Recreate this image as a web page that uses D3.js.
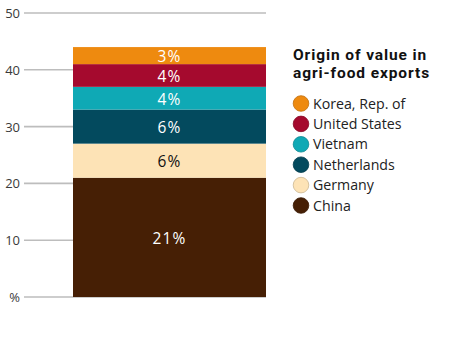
<!DOCTYPE html>
<html><head><meta charset="utf-8">
<script src="https://cdn.jsdelivr.net/npm/d3@7"></script>
<style>body{margin:0;background:#fff;}svg{display:block;font-family:"Open Sans","Noto Sans",sans-serif;}</style>
</head><body><svg id="c" width="474" height="339"></svg>
<script>
const categories = ["China","Germany","Netherlands","Vietnam","United States","Korea, Rep. of"];
const values = [21, 6, 6, 4, 4, 3];
const colors = ["#461f05","#fde3b6","#034a5e","#0fa9b5","#a50a2e","#ee8a0f"];
const labelColors = ["#fff","#111","#fff","#fff","#fff","#fff"];
const tickValues = [0,10,20,30,40,50];
const tickLabels = ["%","10","20","30","40","50"];
const legendTitle = ["Origin of value in","agri-food exports"];

const svg = d3.select("#c");
const y = d3.scaleLinear().domain([0,50]).range([297,13]);
const x0 = 24, barL = 73, barR = 266;

// gridlines
svg.append("g").selectAll("line").data(tickValues).join("line")
  .attr("x1", x0).attr("x2", barR)
  .attr("y1", d=>y(d)).attr("y2", d=>y(d))
  .attr("stroke","#bdbdbd").attr("stroke-width",1.6);
svg.append("g").selectAll("text").data(tickValues).join("text")
  .attr("x", 20).attr("y", d=>y(d)+5).attr("text-anchor","end")
  .attr("font-size",13).attr("fill","#3a3a3a").text((d,i)=>tickLabels[i]);

// stacked segments
let cum = 0;
const segs = values.map((v,i)=>{const s={i,v,y0:cum,y1:cum+v}; cum+=v; return s;});
svg.append("g").selectAll("rect").data(segs).join("rect")
  .attr("x", barL).attr("width", barR-barL)
  .attr("y", d=>y(d.y1)).attr("height", d=>y(d.y0)-y(d.y1))
  .attr("fill", d=>colors[d.i]);
svg.append("g").selectAll("text").data(segs).join("text")
  .attr("x", (barL+barR)/2).attr("y", d=>(y(d.y0)+y(d.y1))/2+6.5)
  .attr("text-anchor","middle").attr("font-size",15.5).attr("letter-spacing",1.2)
  .attr("fill", d=>labelColors[d.i]).text(d=>d.v+"%");

// legend
const lg = svg.append("g");
const tt = lg.selectAll("text.t").data(legendTitle).join("text").attr("class","t")
  .attr("x",293).attr("y",(d,i)=>59.5+i*18.3).attr("font-size",15.5)
  .style("font-family","Roboto, 'Open Sans', sans-serif")
  .attr("font-weight","bold").attr("fill","#111").text(d=>d);
// widen title to reference width
const w = d3.max(tt.nodes(), n=>n.getComputedTextLength());
const n2 = legendTitle[1].length;
const ls = Math.max(0,(137 - w)/n2);
tt.attr("letter-spacing", ls);
const order = d3.range(categories.length).reverse();
const items = lg.selectAll("g.it").data(order).join("g").attr("class","it")
  .attr("transform",(d,k)=>`translate(301,${103.5+k*20.4})`);
items.append("circle").attr("r",7.8).attr("fill",d=>colors[d])
  .attr("stroke",d=>d3.color(colors[d]).darker(0.6)).attr("stroke-width",0.8);
items.append("text").attr("x",12).attr("y",5).attr("font-size",14.2).attr("fill","#222")
  .text(d=>categories[d]);
</script></body></html>
